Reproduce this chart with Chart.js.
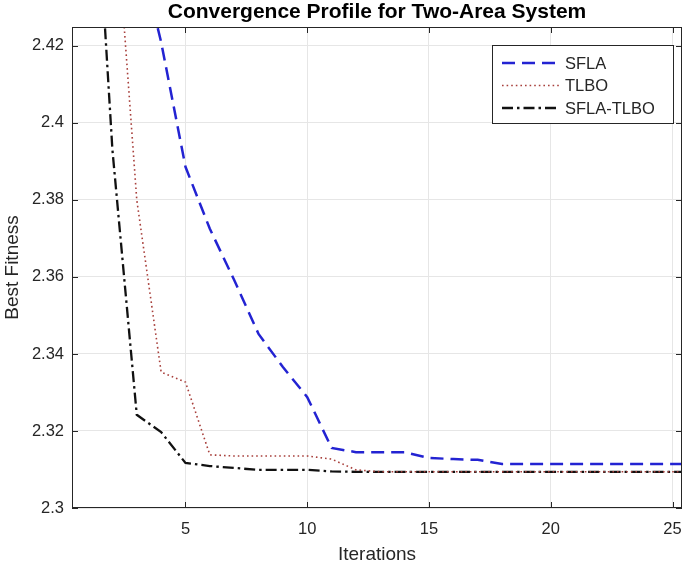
<!DOCTYPE html>
<html lang="en">
<head>
    <meta charset="UTF-8">
    <title>Convergence Profile for Two-Area System</title>
    <script src="https://cdn.jsdelivr.net/npm/chart.js"></script>
    <style>
        body {
            margin: 0;
            padding: 0;
            background: #ffffff;
        }
        #wrap {
            width: 685px;
            height: 567px;
        }
    </style>
</head>
<body>
    <div id="wrap">
        <canvas id="convChart" width="685" height="567"></canvas>
    </div>

    <script>
        // values
        const iterations = [1, 2, 3, 4, 5, 6, 7, 8, 9, 10, 11, 12, 13, 14, 15, 16, 17, 18, 19, 20, 21, 22, 23, 24, 25, 26];
        const sfla = [2.60, 2.52, 2.447, 2.421, 2.3886, 2.3725, 2.3592, 2.3452, 2.3366, 2.3288, 2.3156, 2.3145, 2.3145,
                      2.3145, 2.3130, 2.3127, 2.3125, 2.3114, 2.3114, 2.3114, 2.3114, 2.3114, 2.3114, 2.3114, 2.3114, 2.3114];
        const tlbo = [2.55, 2.467, 2.380, 2.3353, 2.3327, 2.3138, 2.3135, 2.3135, 2.3135, 2.3135, 2.3127, 2.3099, 2.3094,
                      2.3094, 2.3094, 2.3094, 2.3094, 2.3094, 2.3094, 2.3094, 2.3094, 2.3094, 2.3094, 2.3094, 2.3094, 2.3094];
        const sflaTlbo = [2.497, 2.393, 2.3242, 2.3197, 2.3117, 2.3109, 2.3104, 2.3099, 2.3099, 2.3099, 2.3095, 2.3094, 2.3094,
                          2.3094, 2.3094, 2.3094, 2.3094, 2.3094, 2.3094, 2.3094, 2.3094, 2.3094, 2.3094, 2.3094, 2.3094, 2.3094];
        const seriesNames = ['SFLA', 'TLBO', 'SFLA-TLBO'];
        const xTicks = [5, 10, 15, 20, 25];
        const yTicks = [2.3, 2.32, 2.34, 2.36, 2.38, 2.4, 2.42];
        const chartTitle = 'Convergence Profile for Two-Area System';

        const FONT = "'Liberation Sans', Arial, Helvetica, sans-serif";
        const AXIS_COL = '#262626';

        function toPoints(arr) {
            return iterations.map((it, i) => ({ x: it, y: arr[i] }));
        }

        // box, inward ticks, title and legend drawn MATLAB-style
        const matlabLook = {
            id: 'matlabLook',
            afterDraw(chart) {
                const ctx = chart.ctx;
                const a = chart.chartArea;
                const xs = chart.scales.x, ys = chart.scales.y;
                ctx.save();

                ctx.strokeStyle = AXIS_COL;
                ctx.lineWidth = 1;
                ctx.beginPath();
                xTicks.forEach(v => {
                    const px = Math.round(xs.getPixelForValue(v)) + 0.5;
                    ctx.moveTo(px, a.bottom); ctx.lineTo(px, a.bottom - 6);
                    ctx.moveTo(px, a.top); ctx.lineTo(px, a.top + 6);
                });
                yTicks.forEach(v => {
                    const py = Math.round(ys.getPixelForValue(v)) + 0.5;
                    ctx.moveTo(a.left, py); ctx.lineTo(a.left + 6, py);
                    ctx.moveTo(a.right, py); ctx.lineTo(a.right - 6, py);
                });
                ctx.stroke();
                ctx.strokeRect(Math.round(a.left) + 0.5, Math.round(a.top) + 0.5,
                               Math.round(a.width) - 1, Math.round(a.height) - 1);

                // title
                ctx.fillStyle = '#000000';
                ctx.font = 'bold 21px ' + FONT;
                ctx.textAlign = 'center';
                ctx.textBaseline = 'alphabetic';
                ctx.fillText(chartTitle, (a.left + a.right) / 2, 18);

                // legend
                const bx = a.right - 190, by = a.top + 18, bw = 181, bh = 78;
                ctx.fillStyle = '#ffffff';
                ctx.fillRect(bx, by, bw, bh);
                ctx.strokeStyle = AXIS_COL;
                ctx.lineWidth = 1;
                ctx.setLineDash([]);
                ctx.strokeRect(bx + 0.5, by + 0.5, bw, bh);
                chart.data.datasets.forEach((ds, i) => {
                    const ly = by + 18 + i * 22.5;
                    ctx.save();
                    ctx.strokeStyle = ds.borderColor;
                    ctx.lineWidth = ds.borderWidth;
                    ctx.setLineDash(ds.borderDash || []);
                    ctx.beginPath();
                    ctx.moveTo(bx + 10, ly);
                    ctx.lineTo(bx + 68, ly);
                    ctx.stroke();
                    ctx.restore();
                    ctx.fillStyle = AXIS_COL;
                    ctx.font = '16.5px ' + FONT;
                    ctx.textAlign = 'left';
                    ctx.textBaseline = 'middle';
                    ctx.fillText(ds.label, bx + 73, ly + 1);
                });
                ctx.restore();
            }
        };

        const ctx = document.getElementById('convChart').getContext('2d');
        const convChart = new Chart(ctx, {
            type: 'line',
            data: {
                datasets: [
                    { label: seriesNames[0], data: toPoints(sfla), borderColor: '#2323d2', borderWidth: 2.5,
                      borderDash: [13, 7], pointRadius: 0, tension: 0, fill: false },
                    { label: seriesNames[1], data: toPoints(tlbo), borderColor: '#a8403c', borderWidth: 1.6,
                      borderDash: [1.6, 3], pointRadius: 0, tension: 0, fill: false },
                    { label: seriesNames[2], data: toPoints(sflaTlbo), borderColor: '#111111', borderWidth: 2.3,
                      borderDash: [11, 4, 2.5, 4], pointRadius: 0, tension: 0, fill: false }
                ]
            },
            options: {
                responsive: false,
                animation: false,
                layout: { padding: { top: 27, right: 3, left: 0, bottom: 0 } },
                plugins: {
                    legend: { display: false },
                    tooltip: { enabled: false }
                },
                scales: {
                    x: {
                        type: 'linear',
                        min: 0.34,
                        max: 25.39,
                        afterBuildTicks: s => { s.ticks = xTicks.map(v => ({ value: v })); },
                        afterFit: s => { s.height = 59; s.paddingLeft = 0; s.paddingRight = 0; },
                        grid: { color: '#e6e6e6', drawTicks: false },
                        border: { display: false },
                        ticks: { color: AXIS_COL, padding: 12, maxRotation: 0, font: { family: FONT, size: 16.5 },
                                 callback: v => String(v) },
                        title: { display: true, text: 'Iterations', color: AXIS_COL,
                                 font: { family: FONT, size: 19 }, padding: { top: 0, bottom: 1 } }
                    },
                    y: {
                        type: 'linear',
                        min: 2.3,
                        max: 2.4249,
                        afterBuildTicks: s => { s.ticks = yTicks.map(v => ({ value: v })); },
                        afterFit: s => { s.width = 72; s.paddingTop = 0; s.paddingBottom = 0; },
                        grid: { color: '#e6e6e6', drawTicks: false },
                        border: { display: false },
                        ticks: { color: AXIS_COL, padding: 8, font: { family: FONT, size: 16.5 },
                                 callback: v => String(Math.round(v * 100) / 100) },
                        title: { display: true, text: 'Best Fitness', color: AXIS_COL,
                                 font: { family: FONT, size: 19 }, padding: { top: 1, bottom: 0 } }
                    }
                }
            },
            plugins: [matlabLook]
        });
    </script>
</body>
</html>
